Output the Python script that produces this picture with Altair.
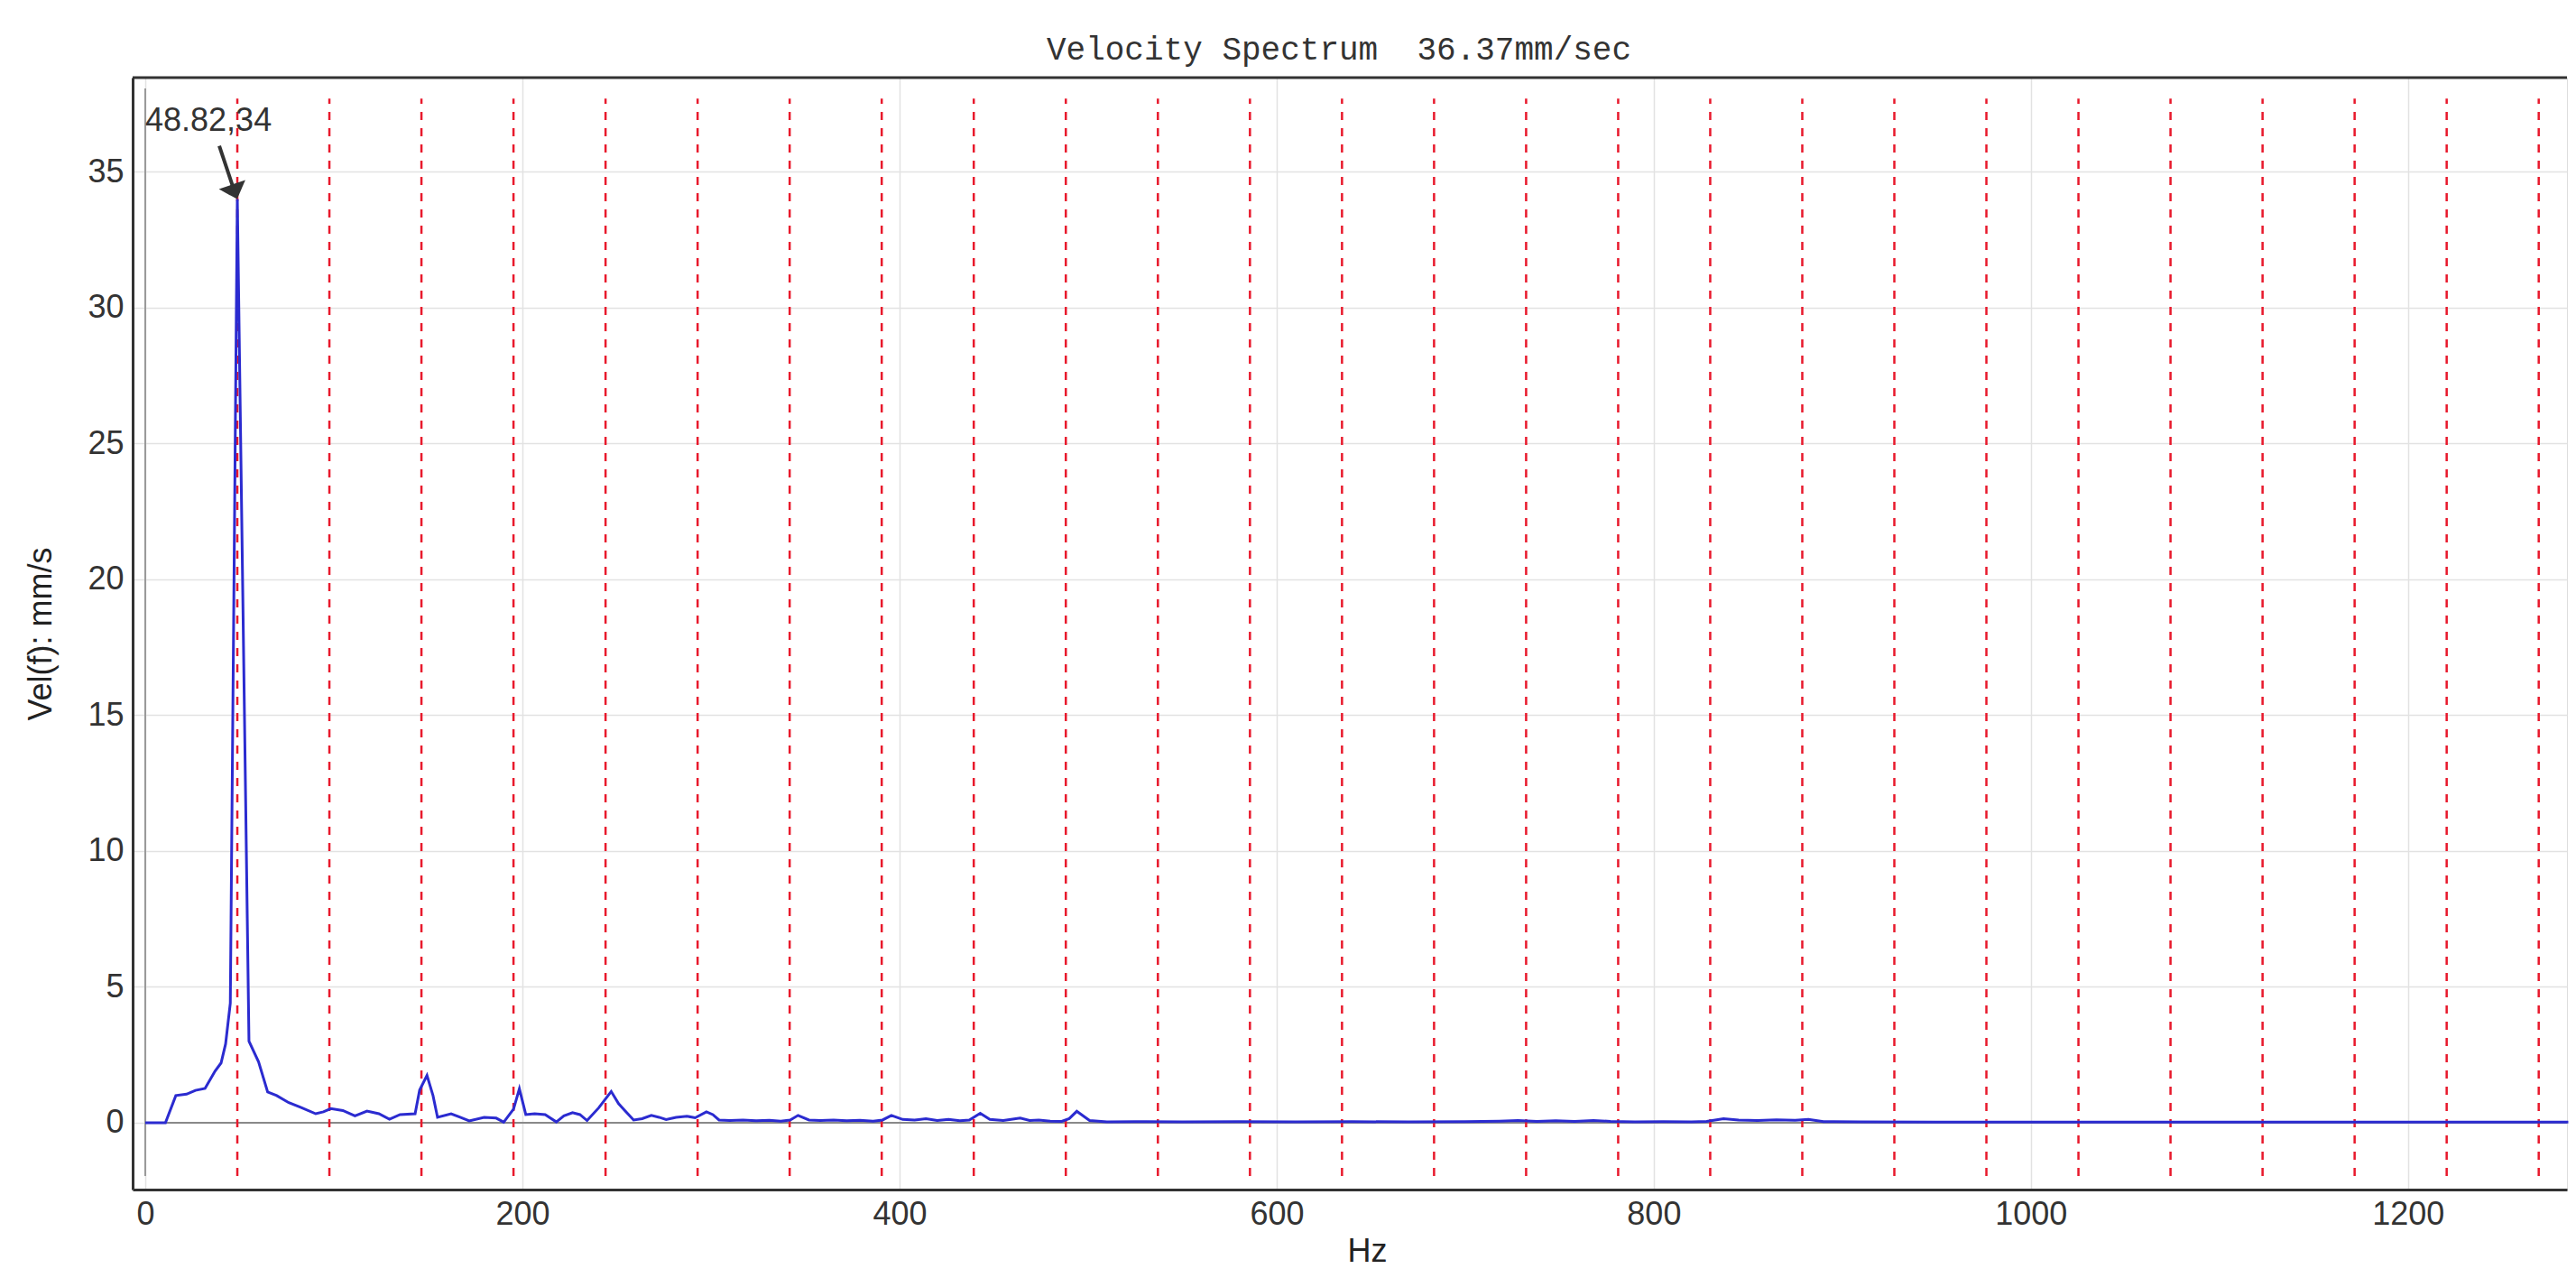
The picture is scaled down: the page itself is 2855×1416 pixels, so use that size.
import altair as alt
import pandas as pd

# ---------------- data ----------------
freq_hz = [0, 10.7, 16.2, 21.9, 26.6, 31.7, 37.0, 40.2, 42.6, 45.1, 48.82, 55.0, 60.1, 64.9,
           69.7, 76.1, 82.4, 90.4, 94.5, 98.4, 104.8, 111.2, 117.6, 123.9, 129.5, 135.1,
           143.1, 145.5, 149.4, 152.6, 155.0, 162.2, 167.0, 171.8, 179.7, 186.1, 190.1,
           195.3, 198.4, 201.8, 206.5, 212.1, 218.0, 222.0, 226.6, 230.5, 234.3, 240.5,
           247.1, 251.0, 255.0, 259.0, 263.5, 268.4, 272.5, 276.2, 281.5, 287.3, 291.6,
           297.6, 301.0, 304.3, 310, 317, 324, 331, 337, 342, 346.2, 352.0, 358, 365, 372,
           379, 386, 391, 395.7, 401.7, 408, 414, 420, 426, 432, 437, 442.8, 447.9, 455,
           460, 464, 469, 473.9, 480, 486, 490, 494, 500.8, 510, 525, 550, 580, 610, 640,
           670, 700, 718, 728, 738, 748, 758, 768, 777, 790, 805, 820, 828, 837, 845, 855,
           865, 875, 882, 890, 910, 950, 1000, 1050, 1100, 1150, 1200, 1250, 1285]
vel_mms = [0, 0, 1.0, 1.05, 1.19, 1.26, 1.9, 2.2, 2.9, 4.4, 34.0, 3.0, 2.24, 1.13,
           1.0, 0.74, 0.57, 0.33, 0.4, 0.52, 0.45, 0.25, 0.43, 0.33, 0.13, 0.3,
           0.33, 1.2, 1.74, 1.0, 0.2, 0.33, 0.2, 0.07, 0.2, 0.17, 0.02,
           0.5, 1.25, 0.3, 0.33, 0.3, 0.03, 0.25, 0.37, 0.3, 0.08, 0.55,
           1.15, 0.7, 0.4, 0.1, 0.15, 0.27, 0.2, 0.12, 0.2, 0.24, 0.18,
           0.4, 0.3, 0.1, 0.08, 0.1, 0.07, 0.09, 0.06, 0.1, 0.27, 0.1, 0.08, 0.1, 0.07,
           0.09, 0.06, 0.1, 0.27, 0.12, 0.1, 0.15, 0.08, 0.12, 0.07, 0.1, 0.35, 0.12, 0.08,
           0.13, 0.17, 0.08, 0.1, 0.06, 0.05, 0.15, 0.42, 0.08, 0.03, 0.04, 0.03, 0.04, 0.03, 0.04,
           0.03, 0.04, 0.06, 0.08, 0.05, 0.07, 0.05, 0.08, 0.05, 0.03, 0.04, 0.03, 0.05, 0.15, 0.1, 0.08,
           0.11, 0.09, 0.12, 0.04, 0.03, 0.02, 0.02, 0.02, 0.02, 0.02, 0.02, 0.02, 0.02]

harm_hz = [48.82, 97.64, 146.46, 195.28, 244.10, 292.92, 341.74, 390.56, 439.38, 488.20,
           537.02, 585.84, 634.66, 683.48, 732.30, 781.12, 829.94, 878.76, 927.58, 976.40,
           1025.22, 1074.04, 1122.86, 1171.68, 1220.50, 1269.32]

x_ticks = [0, 200, 400, 600, 800, 1000, 1200]
y_ticks = [0, 5, 10, 15, 20, 25, 30, 35]

peak_hz = [48.82]
peak_vel = [34]

# non-breaking space keeps the double gap of the original title
title_text = "Velocity Spectrum\u00a0 36.37mm/sec"
x_domain = [-6.7, 1284.3]
y_domain = [-2.46, 38.47]
marker_span = [-1.96, 37.7]
zero_axis_span = [-1.96, 38.07]

# ---------------- tables ----------------
spec = pd.DataFrame({"f": freq_hz, "v": vel_mms})
harm = pd.DataFrame({"f": harm_hz, "lo": marker_span[0], "hi": marker_span[1]})
peak = pd.DataFrame({"f": peak_hz, "v": peak_vel,
                     "label": [f"{peak_hz[0]},{peak_vel[0]:g}"]})
zero_h = pd.DataFrame({"f": [0], "f2": [x_domain[1]], "v": [0]})
zero_v = pd.DataFrame({"f": [0], "lo": [zero_axis_span[0]], "hi": [zero_axis_span[1]]})

W, H = 2698, 1232
FONT = "Liberation Sans"
xs = alt.Scale(domain=x_domain, nice=False, zero=False)
ys = alt.Scale(domain=y_domain, nice=False, zero=False)

x_axis = alt.Axis(values=x_ticks, format="d", grid=True, gridColor="#e2e2e2", gridWidth=1.5,
                  domain=True, domainColor="#333333", domainWidth=3, ticks=False,
                  labelFont=FONT, labelFontSize=36, labelColor="#333333", labelPadding=10,
                  labelFlush=False,
                  title="Hz", titleFont=FONT, titleFontSize=36, titleFontWeight="normal",
                  titleColor="#222222", titleX=1368, titleY=79, titleAlign="center",
                  titleBaseline="alphabetic")
y_axis = alt.Axis(values=y_ticks, format="d", grid=True, gridColor="#e2e2e2", gridWidth=1.5,
                  domain=True, domainColor="#333333", domainWidth=3, ticks=False,
                  labelFont=FONT, labelFontSize=36, labelColor="#333333", labelPadding=10,
                  title="Vel(f): mm/s", titleFont=FONT, titleFontSize=36,
                  titleFontWeight="normal", titleColor="#222222", titleX=-102, titleY=616,
                  titleAngle=270, titleAlign="center", titleBaseline="middle")


def X(field):
    return alt.X(field, type="quantitative", scale=xs, axis=x_axis)


def Y(field):
    return alt.Y(field, type="quantitative", scale=ys, axis=y_axis)


zero_line = alt.Chart(zero_h).mark_rule(color="#8a8a8a", strokeWidth=2).encode(
    x=X("f"), x2="f2", y=Y("v"))
zero_vert = alt.Chart(zero_v).mark_rule(color="#9a9a9a", strokeWidth=2).encode(
    x=X("f"), y=Y("lo"), y2="hi")
harm_lines = alt.Chart(harm).mark_rule(color="#e8192c", strokeWidth=2.5,
                                       strokeDash=[9, 9]).encode(
    x=X("f"), y=Y("lo"), y2="hi")
spectrum = alt.Chart(spec).mark_line(color="#2b2bd0", strokeWidth=3).encode(
    x=X("f"), y=Y("v"))
arrow_line = alt.Chart(peak).mark_rule(color="#333333", strokeWidth=4,
                                       xOffset=-5, yOffset=-14,
                                       x2Offset=-20, y2Offset=-59).encode(
    x=X("f"), y=Y("v"), x2="f", y2="v")
arrow_head = alt.Chart(peak).mark_point(
    shape="M -1,-0.55 L 1,-0.55 L 0,0.55 Z", size=960, filled=True, opacity=1,
    color="#333333", angle=341, xOffset=-3, yOffset=-8).encode(x=X("f"), y=Y("v"))
ann_text = alt.Chart(peak).mark_text(font=FONT, fontSize=36, color="#333333",
                                     align="left", baseline="alphabetic",
                                     dx=-102, dy=-76).encode(
    x=X("f"), y=Y("v"), text="label")
top_border = alt.Chart(peak).mark_rule(color="#333333", strokeWidth=3).encode(
    x=alt.value(0), x2=alt.value(W), y=alt.value(0))

chart = alt.layer(zero_line, zero_vert, harm_lines, spectrum, arrow_line, arrow_head,
                  ann_text, top_border).properties(
    width=W, height=H,
    title=alt.TitleParams(text=title_text, font="Liberation Mono", fontSize=36,
                          fontWeight="normal", color="#333333", anchor="middle",
                          frame="group", dx=-12, offset=11),
    autosize=alt.AutoSizeParams(type="none"),
    padding={"left": 139, "top": 78, "right": 2, "bottom": 88},
).configure_view(stroke=None).configure(background="white")

chart.save("out.html", embed_options={"renderer": "svg", "actions": False})
